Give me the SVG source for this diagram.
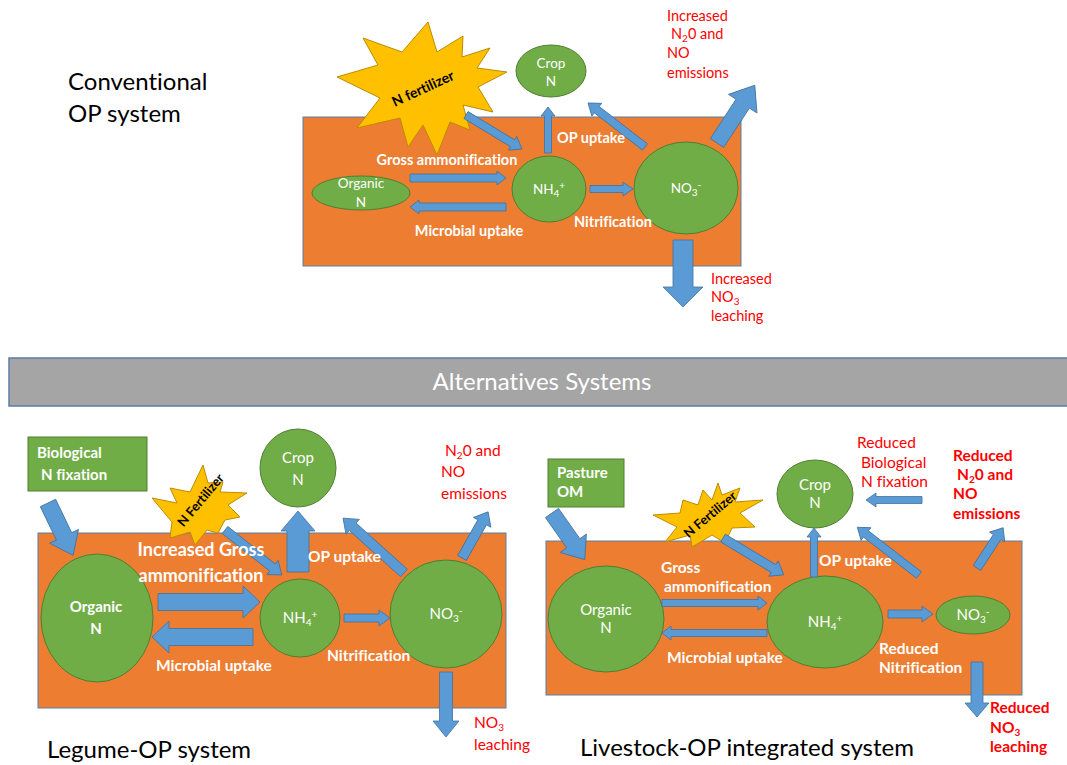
<svg xmlns="http://www.w3.org/2000/svg" width="1067" height="765" viewBox="0 0 1067 765">
<style>
.soil{fill:#ED7D31;stroke:#5B7FA6;stroke-width:1}
.pool{fill:#70AD47;stroke:#507E32;stroke-width:1}
.box{fill:#70AD47;stroke:#507E32;stroke-width:1}
.arr{fill:#5B9BD5;stroke:#41719C;stroke-width:0.8}
.star{fill:#FFC000;stroke:#BC8C00;stroke-width:1}
text{font-family:Lato,"Liberation Sans",sans-serif;font-variant-ligatures:none;font-feature-settings:"liga" 0}
.lbl{fill:#fff;font-weight:bold;font-size:14.5px}
.lbl2{fill:#fff;font-weight:bold;font-size:15.5px}
.big{fill:#fff;font-weight:bold;font-size:18px}
.pt{fill:#fff;font-size:13.5px}
.pt2{fill:#fff;font-size:15px}
.ptb{fill:#fff;font-size:15px;font-weight:bold}
.red{fill:#FF0000;font-size:14.5px}
.red2{fill:#FF0000;font-size:15.5px}
.redb{fill:#FF0000;font-size:15.5px;font-weight:bold}
.title{fill:#000;font-size:24px}
.st{fill:#000;font-weight:bold;font-size:13px}
.sub{font-size:10px}
</style>

<!-- ===== Conventional OP system ===== -->
<g id="conv-title"><text class="title" x="68" y="90">Conventional</text><text class="title" x="68" y="122">OP system</text></g>
<g id="conv-soil"><rect class="soil" x="303" y="117" width="438" height="149"/></g>
<g id="conv-fert"><polygon class="star" points="428,22 437,52 463,36 462,57 490,48 477,68 507,72 478,87 493,112 463,105 470,130 450,122 437,155 423,125 408,147 400,118 357,128 380,98 337,77 378,65 363,38 402,52"/><text class="st" style="font-size:14px" transform="translate(425 93) rotate(-25)" text-anchor="middle">N fertilizer</text></g>
<g id="conv-crop"><ellipse class="pool" cx="551" cy="71" rx="35" ry="26"/><text class="pt" x="551" y="67.5" text-anchor="middle">Crop</text><text class="pt" x="551" y="86" text-anchor="middle">N</text></g>
<g id="conv-org"><ellipse class="pool" cx="361" cy="193" rx="49" ry="17"/><text class="pt" x="361" y="187.5" text-anchor="middle">Organic</text><text class="pt" x="361" y="206.5" text-anchor="middle">N</text></g>
<g id="conv-nh4"><ellipse class="pool" cx="549" cy="189" rx="37" ry="33"/><text class="pt" x="549" y="194" text-anchor="middle">NH<tspan class="sub" dy="3">4</tspan><tspan class="sub" dy="-8">+</tspan></text></g>
<g id="conv-no3"><ellipse class="pool" cx="686" cy="188" rx="52" ry="46"/><text class="pt" x="686" y="193" text-anchor="middle">NO<tspan class="sub" dy="3">3</tspan><tspan class="sub" dy="-8">-</tspan></text></g>

<g id="conv-connectors">
<path class="arr" transform="translate(466 115) rotate(31.3)" d="M0-4H54.5V-8L65.5 0 54.5 8V4H0Z"/>
<path class="arr" transform="translate(410 178)" d="M0-4H87V-7L96 0 87 7V4H0Z"/>
<path class="arr" transform="translate(506 207) rotate(180)" d="M0-4H87V-7L96 0 87 7V4H0Z"/>
<path class="arr" transform="translate(590 189)" d="M0-3.5H33V-7L43 0 33 7V3.5H0Z"/>
<path class="arr" transform="translate(548 153) rotate(-90)" d="M0-3.5H37V-7L46 0 37 7V3.5H0Z"/>
<path class="arr" transform="translate(645 147) rotate(-142.3)" d="M0-4H61V-8L72 0 61 8V4H0Z"/>
<path class="arr" transform="translate(717 143) rotate(-56.8)" d="M0-8H47V-17L69 0 47 17V8H0Z"/>
<path class="arr" transform="translate(683 240) rotate(90)" d="M0-10H47V-20L67 0 47 20V10H0Z"/>
</g>
<g id="conv-labels">
<text class="lbl" x="447" y="165" text-anchor="middle">Gross ammonification</text>
<text class="lbl" x="469" y="236" text-anchor="middle">Microbial uptake</text>
<text class="lbl" x="557" y="143">OP uptake</text>
<text class="lbl" x="574" y="227">Nitrification</text>
<text class="red" x="667" y="21">Increased</text>
<text class="red" x="671" y="39">N<tspan class="sub" dy="3">2</tspan><tspan dy="-3">0 and</tspan></text>
<text class="red" x="667" y="58">NO</text>
<text class="red" x="667" y="78">emissions</text>
<text class="red" x="711" y="284">Increased</text>
<text class="red" x="711" y="302">NO<tspan class="sub" dy="3">3</tspan></text>
<text class="red" x="711" y="321">leaching</text>
</g>

<!-- ===== Banner ===== -->
<g id="banner"><rect x="9" y="358" width="1060" height="48" fill="#A5A5A5" stroke="#5B7FA6" stroke-width="1.5"/><text x="542" y="390" text-anchor="middle" fill="#fff" font-size="24">Alternatives Systems</text></g>

<!-- ===== Legume-OP system ===== -->
<g id="leg-soil"><rect class="soil" x="38" y="533" width="468" height="175"/></g>
<g id="leg-bnf"><rect class="box" x="28" y="437" width="119" height="54"/><text class="ptb" x="37" y="458">Biological</text><text class="ptb" x="41" y="480">N fixation</text></g>
<g id="leg-crop"><ellipse class="pool" cx="298" cy="468" rx="38" ry="39"/><text class="pt2" x="298" y="463" text-anchor="middle">Crop</text><text class="pt2" x="298" y="485" text-anchor="middle">N</text></g>
<g id="leg-org"><ellipse class="pool" cx="97" cy="618" rx="56" ry="64"/><text class="ptb" x="96" y="612" text-anchor="middle">Organic</text><text class="ptb" x="96" y="634" text-anchor="middle">N</text></g>
<g id="leg-nh4"><ellipse class="pool" cx="300" cy="618" rx="40" ry="39"/><text class="pt2" x="300" y="623" text-anchor="middle">NH<tspan class="sub" dy="3">4</tspan><tspan class="sub" dy="-8">+</tspan></text></g>
<g id="leg-no3"><ellipse class="pool" cx="446" cy="614" rx="56" ry="54"/><text class="pt2" x="446" y="619" text-anchor="middle">NO<tspan class="sub" dy="3">3</tspan><tspan class="sub" dy="-8">-</tspan></text></g>
<g id="leg-fert"><polygon class="star" points="203,465 208,483 223,482 220,492 247,493 228,505 240,517 225,520 218,533 207,530 195,545 190,532 170,538 172,522 152,498 177,503 170,488 190,492"/><text class="st" transform="translate(204 503) rotate(-50)" text-anchor="middle">N Fertilizer</text></g>

<g id="leg-connectors">
<path class="arr" transform="translate(48 503) rotate(64.3)" d="M0-8.5H37V-16L58 0 37 16V8.5H0Z"/>
<path class="arr" transform="translate(225 530) rotate(38.3)" d="M0-4.5H60.5V-9L72.5 0 60.5 9V4.5H0Z"/>
<path class="arr" transform="translate(298 572) rotate(-90)" d="M0-11H41V-17L61 0 41 17V11H0Z"/>
<path class="arr" transform="translate(404 573) rotate(-138)" d="M0-5H69V-10L82 0 69 10V5H0Z"/>
<path class="arr" transform="translate(462 558) rotate(-60.5)" d="M0-5H41V-10L53 0 41 10V5H0Z"/>
<path class="arr" transform="translate(446 672) rotate(90)" d="M0-6.5H49V-13L65 0 49 13V6.5H0Z"/>
<path class="arr" transform="translate(158 602)" d="M0-8.5H85V-16L102 0 85 16V8.5H0Z"/>
<path class="arr" transform="translate(253 637) rotate(180)" d="M0-8.5H84V-16L101 0 84 16V8.5H0Z"/>
<path class="arr" transform="translate(344 618)" d="M0-4H35V-8L46 0 35 8V4H0Z"/>
</g>
<g id="leg-labels">
<text class="big" x="201" y="556" text-anchor="middle">Increased Gross</text>
<text class="big" x="201" y="582" text-anchor="middle">ammonification</text>
<text class="lbl2" x="308" y="562">OP uptake</text>
<text class="lbl2" x="156" y="671">Microbial uptake</text>
<text class="lbl2" x="327" y="661">Nitrification</text>
<text class="red2" x="445" y="456">N<tspan class="sub" dy="3">2</tspan><tspan dy="-3">0 and</tspan></text>
<text class="red2" x="441" y="477">NO</text>
<text class="red2" x="441" y="499">emissions</text>
<text class="red2" x="474" y="728">NO<tspan class="sub" dy="3">3</tspan></text>
<text class="red2" x="474" y="750">leaching</text>
<text class="title" x="47" y="758">Legume-OP system</text>
</g>

<!-- ===== Livestock-OP integrated system ===== -->
<g id="liv-soil"><rect class="soil" x="546" y="541" width="476" height="154"/></g>
<g id="liv-pasture"><rect class="box" x="548" y="459" width="76" height="48"/><text class="ptb" x="557" y="478">Pasture</text><text class="ptb" x="557" y="497">OM</text></g>
<g id="liv-crop"><ellipse class="pool" cx="815" cy="494" rx="38" ry="34"/><text class="pt2" x="815" y="490" text-anchor="middle">Crop</text><text class="pt2" x="815" y="508" text-anchor="middle">N</text></g>
<g id="liv-org"><ellipse class="pool" cx="606" cy="619" rx="58" ry="53"/><text class="pt2" x="606" y="615" text-anchor="middle">Organic</text><text class="pt2" x="606" y="633" text-anchor="middle">N</text></g>
<g id="liv-nh4"><ellipse class="pool" cx="825" cy="622" rx="58" ry="46"/><text class="pt2" x="825" y="627" text-anchor="middle">NH<tspan class="sub" dy="3">4</tspan><tspan class="sub" dy="-8">+</tspan></text></g>
<g id="liv-no3"><ellipse class="pool" cx="973" cy="615" rx="37" ry="19"/><text class="pt2" x="973" y="620" text-anchor="middle">NO<tspan class="sub" dy="3">3</tspan><tspan class="sub" dy="-8">-</tspan></text></g>
<g id="liv-fert"><polygon class="star" points="718,483 722,495 740,488 735,502 763,500 740,513 755,527 732,528 725,543 712,535 692,547 690,535 665,542 677,527 653,515 680,513 683,500 698,505 703,490 712,500"/><text class="st" transform="translate(713 518) rotate(-40)" text-anchor="middle">N Fertilizer</text></g>

<g id="liv-connectors">
<path class="arr" transform="translate(552 513) rotate(54.9)" d="M0-8H37V-16L57 0 37 16V8H0Z"/>
<path class="arr" transform="translate(723 538) rotate(31.2)" d="M0-4.5H59V-9L71 0 59 9V4.5H0Z"/>
<path class="arr" transform="translate(662 603)" d="M0-3.5H96V-7L105 0 96 7V3.5H0Z"/>
<path class="arr" transform="translate(767 633) rotate(180)" d="M0-3.5H96V-7L105 0 96 7V3.5H0Z"/>
<path class="arr" transform="translate(888 614)" d="M0-4H34V-8L45 0 34 8V4H0Z"/>
<path class="arr" transform="translate(814 577) rotate(-90)" d="M0-3.5H40V-7L49 0 40 7V3.5H0Z"/>
<path class="arr" transform="translate(919 575) rotate(-142.3)" d="M0-4H67V-8L78 0 67 8V4H0Z"/>
<path class="arr" transform="translate(922 500) rotate(180)" d="M0-3.5H46V-7L56 0 46 7V3.5H0Z"/>
<path class="arr" transform="translate(977 568) rotate(-57)" d="M0-4.5H37V-9L48 0 37 9V4.5H0Z"/>
<path class="arr" transform="translate(977 662) rotate(90)" d="M0-6H41V-12L55 0 41 12V6H0Z"/>
</g>
<g id="liv-labels">
<text class="lbl2" x="661" y="573">Gross</text>
<text class="lbl2" x="664" y="592">ammonification</text>
<text class="lbl2" x="819" y="566">OP uptake</text>
<text class="lbl2" x="667" y="663">Microbial uptake</text>
<text class="lbl2" x="879" y="654">Reduced</text>
<text class="lbl2" x="879" y="673">Nitrification</text>
<text class="red2" x="857" y="448">Reduced</text>
<text class="red2" x="861" y="468">Biological</text>
<text class="red2" x="861" y="487">N fixation</text>
<text class="redb" x="953" y="461">Reduced</text>
<text class="redb" x="957" y="480">N<tspan class="sub" dy="3">2</tspan><tspan dy="-3">0 and</tspan></text>
<text class="redb" x="953" y="499">NO</text>
<text class="redb" x="953" y="519">emissions</text>
<text class="redb" x="990" y="713">Reduced</text>
<text class="redb" x="990" y="733">NO<tspan class="sub" dy="3">3</tspan></text>
<text class="redb" x="990" y="752">leaching</text>
<text class="title" x="580" y="756">Livestock-OP integrated system</text>
</g>
</svg>
